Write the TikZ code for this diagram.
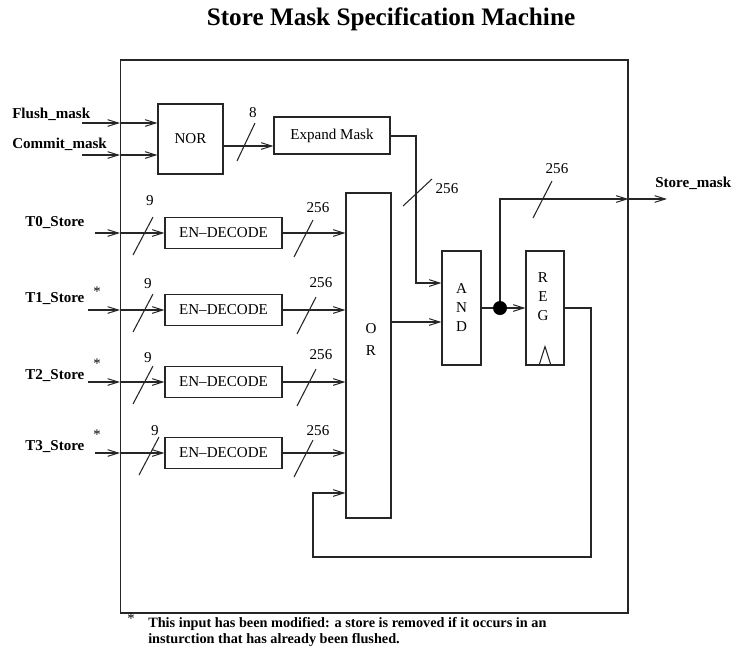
\documentclass[tikz,border=0pt]{standalone}
\usepackage{fontspec}
\setmainfont{Liberation Serif}
\usetikzlibrary{arrows.meta}
\newcommand\myfs{\fontsize{11.3}{13.5}\selectfont}
\begin{document}
\begin{tikzpicture}[x=0.75pt,y=-0.75pt,
  wire/.style={line width=0.8pt, draw=black!85},
  arr/.style={wire, -{Straight Barb[length=8pt,width=5pt,line width=0.75pt]}},
  blk/.style={draw=black!85, line width=0.8pt, inner sep=0pt, font=\myfs},
  lbl/.style={inner sep=0pt, font=\myfs},
  inlbl/.style={inner sep=0pt, font=\myfs\bfseries, anchor=base west},
  star/.style={inner sep=0pt, font=\fontsize{11}{12}\selectfont}]
\useasboundingbox (0,0) rectangle (734,662);
\node[font=\fontsize{18.9}{22}\selectfont\bfseries, inner sep=0pt] (title) at (391,19) {Store Mask Specification Machine};
\node[draw=black!85, line width=0.8pt, minimum width=380.6pt, minimum height=414.75pt, inner sep=0pt] (frame) at (374.25,336.5) {};

% blocks
\node[blk, minimum width=48.75pt, minimum height=52.5pt] (nor) at (190.5,139) {NOR};
\node[blk, minimum width=87pt, minimum height=27.75pt] (exp) at (332,135.5) {Expand Mask};
\node[blk, minimum width=33.75pt, minimum height=243.75pt] (or) at (368.5,355.5) {};
\node[lbl, align=center, font=\fontsize{11.3}{16.5}\selectfont] (ortxt) at (371,339) {O\\R};
\node[blk, minimum width=29.25pt, minimum height=85.5pt, align=center, font=\fontsize{11.3}{14.25}\selectfont] (and) at (461.5,308) {A\\N\\D};
\node[blk, minimum width=28.5pt, minimum height=85.5pt] (reg) at (545,308) {};
\node[lbl, align=center, font=\fontsize{11.3}{14.25}\selectfont] (regtxt) at (543,297) {R\\E\\G};
\draw[wire] ([xshift=-4.5pt]reg.south) -- ++(6,-19) -- ++(6,19);
\node[circle, fill=black, inner sep=0pt, minimum size=10.5pt] (dot) at (500,308) {};

% flush / commit inputs
\coordinate (fin) at (82,123);
\coordinate (cin) at (82,155);
\node[inlbl] (flush) at (12,118) {Flush\_mask};
\node[inlbl] (commit) at (12,148) {Commit\_mask};
\draw[arr] (fin) -- (frame.west |- fin);
\draw[arr] (frame.west |- fin) -- (nor.west |- fin);
\draw[arr] (cin) -- (frame.west |- cin);
\draw[arr] (frame.west |- cin) -- (nor.west |- cin);

% NOR -> Expand
\coordinate (y146) at (0,146);
\draw[arr] (nor.east |- y146) -- (exp.west |- y146);
\draw[wire] (237,161) -- (255,123);
\node[lbl] (l8) at (253,113) {8};

% Expand -> AND
\coordinate (ebend) at (416,136);
\coordinate (y283) at (0,283);
\draw[arr] (exp.east |- ebend) -- (ebend) -- (ebend |- y283) -- (and.west |- y283);
\draw[wire] (403,206) -- (432,179);
\node[lbl] (l256e) at (447,189) {256};

% OR -> AND
\coordinate (y322) at (0,322);
\draw[arr] (or.east |- y322) -- (and.west |- y322);

% AND -> REG, dot
\draw[wire] (and.east) -- (dot);
\draw[arr] (dot) -- (reg.west);

% output
\coordinate (obend) at (500,199);
\coordinate (oend) at (667,199);
\draw[arr] (dot) -- (obend) -- (frame.east |- obend);
\draw[arr] (frame.east |- obend) -- (oend);
\draw[wire] (533,218) -- (552,181);
\node[lbl] (l256o) at (557,169) {256};
\node[inlbl] (smask) at (655,187) {Store\_mask};

% feedback
\coordinate (fb1) at (591,308);
\coordinate (fb2) at (591,557);
\coordinate (fb3) at (313,557);
\coordinate (fb4) at (313,493);
\draw[arr] (reg.east) -- (fb1) -- (fb2) -- (fb3) -- (fb4) -- (or.west |- fb4);

% rows
\foreach \i/\y/\xs/\lby/\nx/\ny/\sx/\wx/\wy in {
  0/233/95/226/150/201/143/318/208,
  1/310/88/302/148/284/143/321/283,
  2/382/88/379/148/358/143/321/355,
  3/453/95/450/155/431/149/318/431}{
  \node[blk, minimum width=87.75pt, minimum height=23.5pt] (dec\i) at (223.5,\y) {EN--DECODE};
  \coordinate (tin\i) at (\xs,\y);
  \node[inlbl] (tl\i) at (25,\lby) {T\i\_Store};
  \draw[arr] (tin\i) -- (frame.west |- tin\i);
  \draw[arr] (frame.west |- tin\i) -- (dec\i.west);
  \draw[arr] (dec\i.east) -- (or.west |- dec\i.east);
  \draw[wire] (\sx,\y) ++(-10,22) -- ++(20,-38);
  \node[lbl] (n9\i) at (\nx,\ny) {9};
  \draw[wire] (\wx,\y) ++(-24,24) -- ++(19,-37);
  \node[lbl] (w\i) at (\wx,\wy) {256};
}
\node[star] (s1) at (97,292) {*};
\node[star] (s2) at (97,364) {*};
\node[star] (s3) at (97,435) {*};

% footnote
\node[star] (sn) at (131,619) {*};
\node[inner sep=0pt, anchor=base west, font=\fontsize{10.7}{12}\selectfont\bfseries] (note1) at (148,627) {This input has been modified: a store is removed if it occurs in an};
\node[inner sep=0pt, anchor=base west, font=\fontsize{10.7}{12}\selectfont\bfseries] (note2) at (148,643) {insturction that has already been flushed.};
\end{tikzpicture}
\end{document}
